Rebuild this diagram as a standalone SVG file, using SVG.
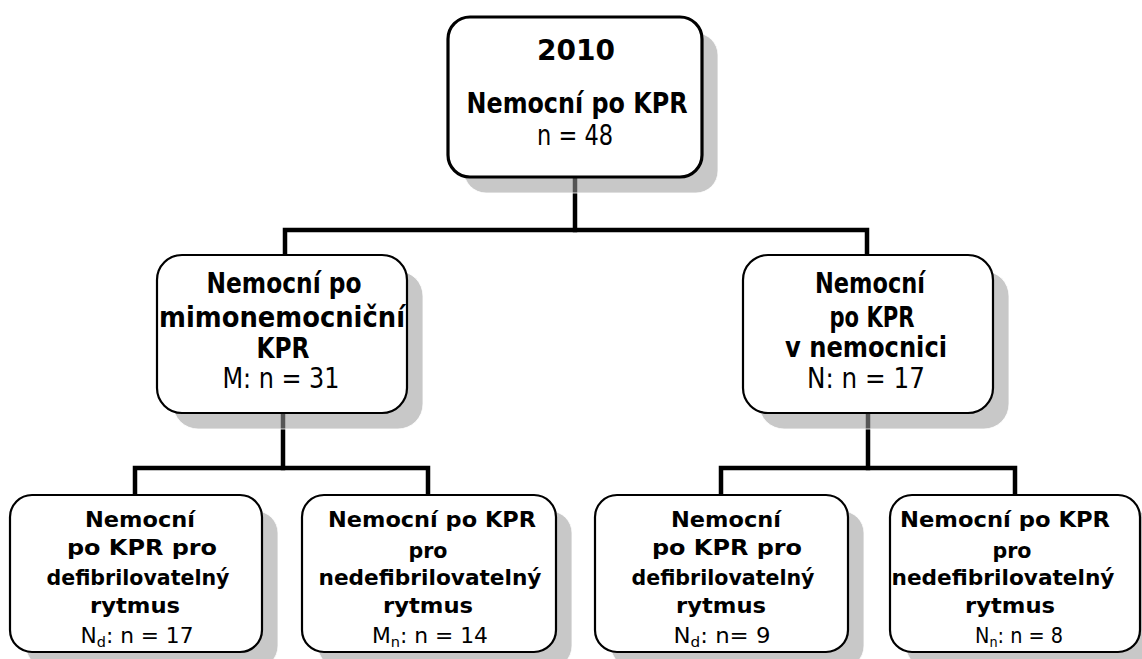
<svg xmlns="http://www.w3.org/2000/svg" width="1142" height="659" viewBox="0 0 1142 659">
<style>
.bg{fill:#fff}
.conn{fill:none;stroke:#000;stroke-width:4.5;stroke-linecap:square;stroke-linejoin:miter}
.sh{fill:#9a9a9a;fill-opacity:.55;stroke:#fff;stroke-width:1;stroke-opacity:.8}
.box{fill:#fff;stroke:#000;stroke-width:2.2}
.box3{fill:#fff;stroke:#000;stroke-width:3.2}
text{font-family:"DejaVu Sans","Verdana",sans-serif;fill:#000;text-anchor:middle}
.b{font-weight:bold}
.L{font-size:28px}
.S{font-size:21px}
.sub{font-size:14px}
</style>
<rect class="bg" x="0" y="0" width="1142" height="659"/>
<g id="connectors">
<polyline class="conn" points="575,177 575,230"/>
<polyline class="conn" points="285,255 285,230 867,230 867,255"/>
<polyline class="conn" points="283,413 283,468"/>
<polyline class="conn" points="135,495 135,468 428,468 428,495"/>
<polyline class="conn" points="868,413 868,468"/>
<polyline class="conn" points="721,495 721,468 1015,468 1015,495"/>
</g>
<g id="n_root">
<rect class="sh" x="464" y="33" width="254" height="160" rx="22"/>
<rect class="box3" x="448" y="17" width="254" height="160" rx="22"/>
<text class="b L" x="576" y="60" textLength="78" lengthAdjust="spacingAndGlyphs">2010</text>
<text class="b L" x="577" y="113" textLength="221" lengthAdjust="spacingAndGlyphs">Nemocní po KPR</text>
<text class="L" x="575" y="145" textLength="76" lengthAdjust="spacingAndGlyphs">n = 48</text>
</g>
<g id="n_m">
<rect class="sh" x="173" y="271" width="250" height="158" rx="25"/>
<rect class="box" x="157" y="255" width="250" height="158" rx="25"/>
<text class="b L" x="284" y="293" textLength="155" lengthAdjust="spacingAndGlyphs">Nemocní po</text>
<text class="b L" x="282" y="327" textLength="246" lengthAdjust="spacingAndGlyphs">mimonemocniční</text>
<text class="b L" x="283" y="358" textLength="53" lengthAdjust="spacingAndGlyphs">KPR</text>
<text class="L" x="281" y="388" textLength="117" lengthAdjust="spacingAndGlyphs">M: n = 31</text>
</g>
<g id="n_n">
<rect class="sh" x="759" y="271" width="250" height="158" rx="25"/>
<rect class="box" x="743" y="255" width="250" height="158" rx="25"/>
<text class="b L" x="870" y="293" textLength="110" lengthAdjust="spacingAndGlyphs">Nemocní</text>
<text class="b L" x="872" y="327" textLength="85" lengthAdjust="spacingAndGlyphs">po KPR</text>
<text class="b L" x="866" y="357" textLength="162" lengthAdjust="spacingAndGlyphs">v nemocnici</text>
<text class="L" x="866" y="388" textLength="118" lengthAdjust="spacingAndGlyphs">N: n = 17</text>
</g>
<g id="n_md">
<rect class="sh" x="26" y="511" width="252" height="157" rx="22"/>
<rect class="box" x="10" y="495" width="252" height="157" rx="22"/>
<text class="b S" x="140" y="527" textLength="110" lengthAdjust="spacingAndGlyphs">Nemocní</text>
<text class="b S" x="142" y="555" textLength="150" lengthAdjust="spacingAndGlyphs">po KPR pro</text>
<text class="b S" x="138" y="585" textLength="183" lengthAdjust="spacingAndGlyphs">defibrilovatelný</text>
<text class="b S" x="135" y="613" textLength="90" lengthAdjust="spacingAndGlyphs">rytmus</text>
<text class="S" x="137" y="643" textLength="113" lengthAdjust="spacingAndGlyphs">N<tspan class="sub" dy="4">d</tspan><tspan dy="-4">: n = 17</tspan></text>
</g>
<g id="n_mn">
<rect class="sh" x="318" y="511" width="254" height="157" rx="22"/>
<rect class="box" x="302" y="495" width="254" height="157" rx="22"/>
<text class="b S" x="432" y="527" textLength="208" lengthAdjust="spacingAndGlyphs">Nemocní po KPR</text>
<text class="b S" x="428" y="558" textLength="39" lengthAdjust="spacingAndGlyphs">pro</text>
<text class="b S" x="430" y="585" textLength="223" lengthAdjust="spacingAndGlyphs">nedefibrilovatelný</text>
<text class="b S" x="428" y="613" textLength="90" lengthAdjust="spacingAndGlyphs">rytmus</text>
<text class="S" x="430" y="643" textLength="116" lengthAdjust="spacingAndGlyphs">M<tspan class="sub" dy="4">n</tspan><tspan dy="-4">: n = 14</tspan></text>
</g>
<g id="n_nd">
<rect class="sh" x="611" y="511" width="253" height="157" rx="22"/>
<rect class="box" x="595" y="495" width="253" height="157" rx="22"/>
<text class="b S" x="726" y="527" textLength="110" lengthAdjust="spacingAndGlyphs">Nemocní</text>
<text class="b S" x="727" y="555" textLength="150" lengthAdjust="spacingAndGlyphs">po KPR pro</text>
<text class="b S" x="723" y="585" textLength="183" lengthAdjust="spacingAndGlyphs">defibrilovatelný</text>
<text class="b S" x="721" y="613" textLength="90" lengthAdjust="spacingAndGlyphs">rytmus</text>
<text class="S" x="722" y="643" textLength="97" lengthAdjust="spacingAndGlyphs">N<tspan class="sub" dy="4">d</tspan><tspan dy="-4">: n= 9</tspan></text>
</g>
<g id="n_nn">
<rect class="sh" x="906" y="511" width="250" height="157" rx="22"/>
<rect class="box" x="890" y="495" width="250" height="157" rx="22"/>
<text class="b S" x="1005" y="527" textLength="210" lengthAdjust="spacingAndGlyphs">Nemocní po KPR</text>
<text class="b S" x="1012" y="558" textLength="39" lengthAdjust="spacingAndGlyphs">pro</text>
<text class="b S" x="1003" y="585" textLength="223" lengthAdjust="spacingAndGlyphs">nedefibrilovatelný</text>
<text class="b S" x="1010" y="613" textLength="90" lengthAdjust="spacingAndGlyphs">rytmus</text>
<text class="S" x="1019" y="643" textLength="88" lengthAdjust="spacingAndGlyphs">N<tspan class="sub" dy="4">n</tspan><tspan dy="-4">: n = 8</tspan></text>
</g>
</svg>
